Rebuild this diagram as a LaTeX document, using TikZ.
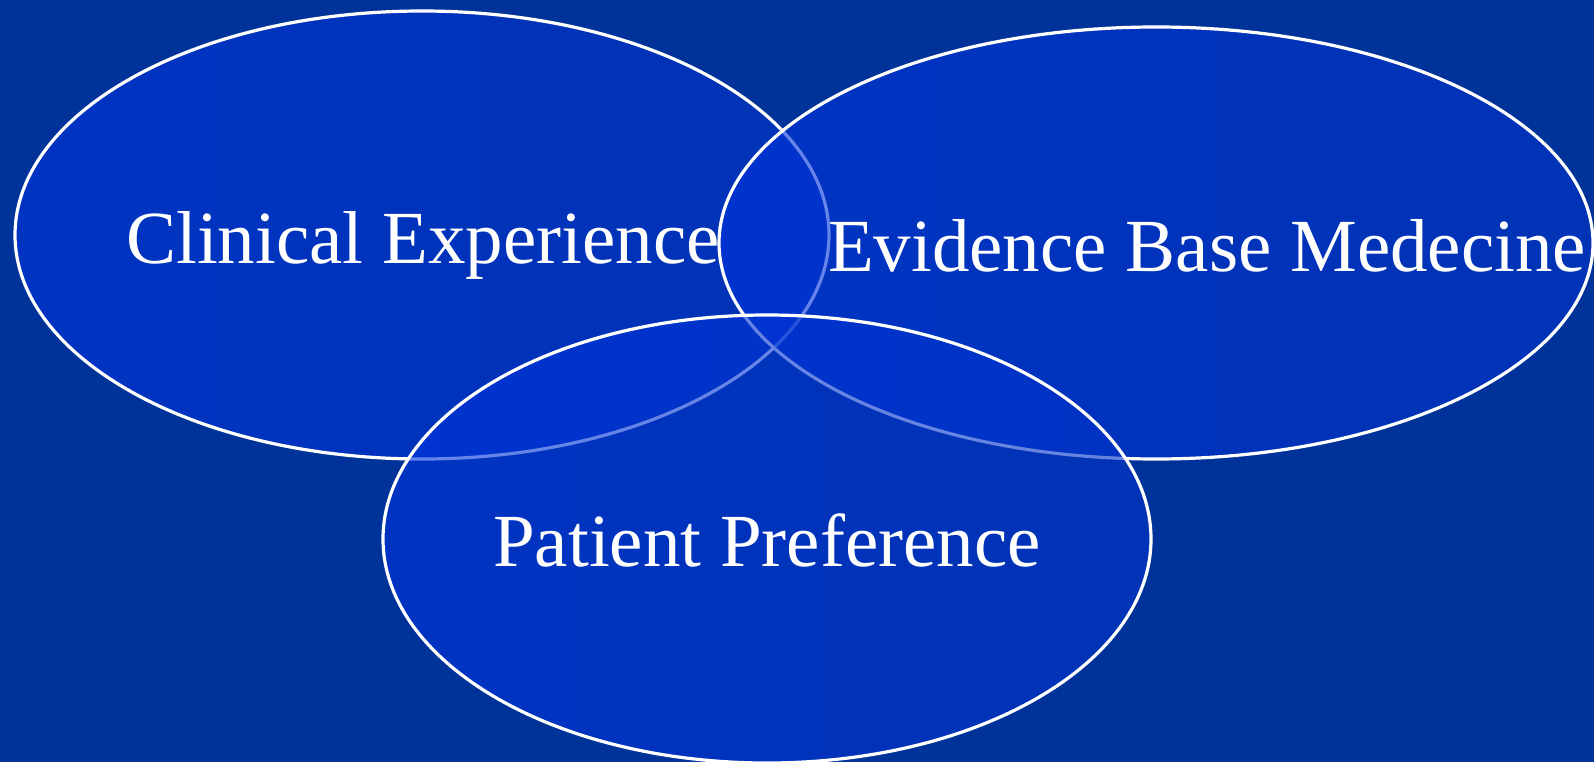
\documentclass[tikz,border=0pt]{standalone}
\usepackage{fontspec}
\setmainfont{Liberation Serif}
\usetikzlibrary{shapes.geometric}
\definecolor{bgblue}{RGB}{0,51,153}
\definecolor{fillL}{RGB}{0,51,222}
\definecolor{fillR}{RGB}{0,51,200}
\tikzset{
  circlebox/.style={ellipse, draw=white, line width=3.2pt, inner sep=0pt,
    left color=fillL, right color=fillR, fill opacity=0.6},
  circlelabel/.style={text=white, font=\fontsize{75}{80}\selectfont, anchor=base, inner sep=0pt}
}
\begin{document}
\begin{tikzpicture}[x=1pt,y=-1pt]
  \fill[bgblue] (0,0) rectangle (1594,762);
  \useasboundingbox (0,0) rectangle (1594,762);
  % the three overlapping sets, later ones drawn over earlier outlines
  \node[circlebox, minimum width=814pt, minimum height=448pt] (clin) at (422,235) {};
  \node[circlebox, minimum width=874pt, minimum height=432pt] (ebm) at (1156,243) {};
  \node[circlebox, minimum width=768pt, minimum height=448pt] (pat) at (767,539) {};
  % labels
  \node[circlelabel] (clinlbl) at (423,263) {Clinical Experience};
  \node[circlelabel] (ebmlbl) at (1207,271) {Evidence Base Medecine};
  \node[circlelabel] (patlbl) at (767,566) {Patient Preference};
\end{tikzpicture}
\end{document}
